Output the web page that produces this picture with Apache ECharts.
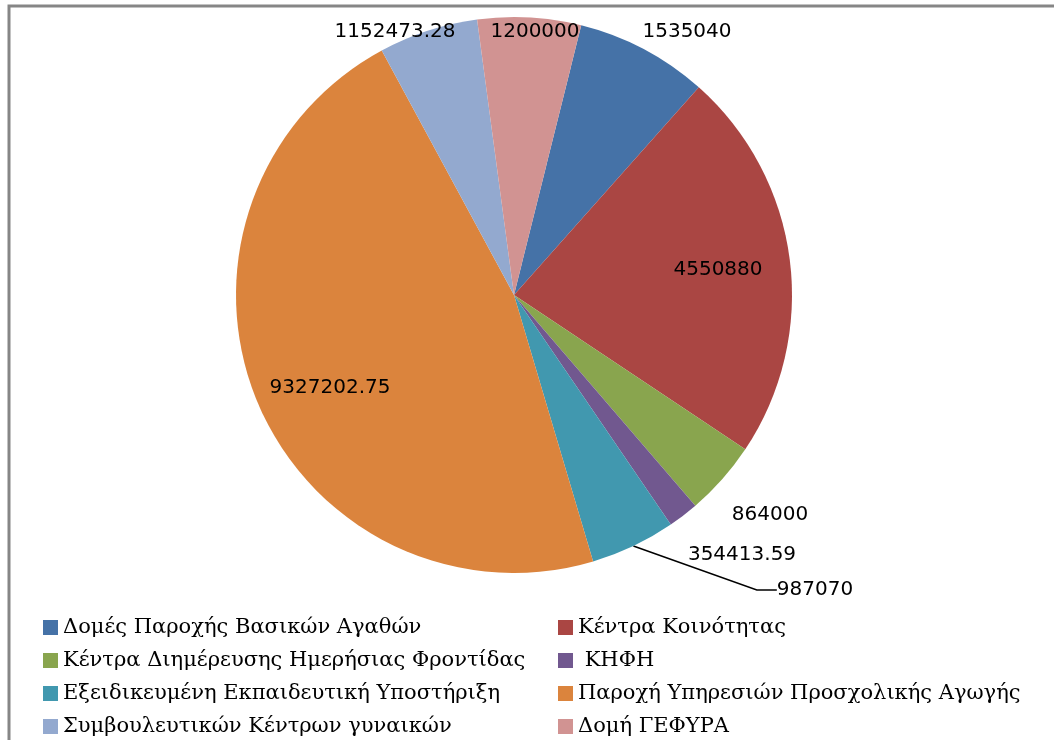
<!DOCTYPE html>
<html>
<head>
<meta charset="utf-8">
<title>Pie</title>
<script src="https://cdn.jsdelivr.net/npm/echarts@6/dist/echarts.min.js"></script>
<style>
  html, body { margin: 0; padding: 0; background: #fff; }
  #main { width: 1054px; height: 740px; }
</style>
</head>
<body>
<div id="main"></div>
<script>
// categories and values
var names = [
  'Δομές Παροχής Βασικών Αγαθών',
  'Κέντρα Κοινότητας',
  'Κέντρα Διημέρευσης Ημερήσιας Φροντίδας',
  ' ΚΗΦΗ',
  'Εξειδικευμένη Εκπαιδευτική Υποστήριξη',
  'Παροχή Υπηρεσιών Προσχολικής Αγωγής',
  'Συμβουλευτικών Κέντρων γυναικών',
  'Δομή ΓΕΦΥΡΑ'
];
var values = [1535040, 4550880, 864000, 354413.59, 987070, 9327202.75, 1152473.28, 1200000];
var colors = ['#4572A7', '#AA4643', '#89A54E', '#71588F', '#4198AF', '#DB843D', '#93A9CF', '#D19392'];

// where Excel put each value label (centre of text), and which one has a leader line
var labelPos = [[687, 32], [718, 270], [770, 515], [742, 555], [815, 590], [330, 388], [395, 32], [535, 32]];
var withLine = [false, false, false, false, true, false, false, false];

var pieData = names.map(function (n, i) {
  return {
    name: n,
    value: values[i],
    itemStyle: { color: colors[i] },
    labelLine: { show: withLine[i] }
  };
});

function legendCol(items, left) {
  return {
    data: items,
    orient: 'vertical',
    left: left, top: 612, height: 200,
    itemWidth: 15, itemHeight: 15, itemGap: 12,
    icon: 'rect',
    textStyle: { fontFamily: 'DejaVu Serif', fontSize: 21, color: '#000', lineHeight: 20 }
  };
}

var myChart = echarts.init(document.getElementById('main'));
var option = {
  animation: false,
  graphic: [{
    type: 'polyline',
    shape: { points: [[9, 740], [9, 6], [1054, 6]] },
    style: { stroke: '#868686', lineWidth: 3, fill: null }
  }],
  legend: [
    legendCol([names[0], names[2], names[4], names[6]], 38),
    legendCol([names[1], names[3], names[5], names[7]], 553)
  ],
  series: [{
    type: 'pie',
    center: [514, 295],
    radius: 278,
    startAngle: 76,
    clockwise: true,
    data: pieData,
    label: {
      show: true,
      formatter: function (p) { return String(p.value); },
      fontFamily: 'DejaVu Sans',
      fontSize: 20,
      color: '#000'
    },
    labelLine: { lineStyle: { color: '#000', width: 1.5 }, length: 20, length2: 20 },
    labelLayout: function (p) {
      var pos = labelPos[p.dataIndex];
      return { x: pos[0], y: pos[1], align: 'center', verticalAlign: 'middle' };
    },
    emphasis: { disabled: true }
  }]
};
myChart.setOption(option);
</script>
</body>
</html>
